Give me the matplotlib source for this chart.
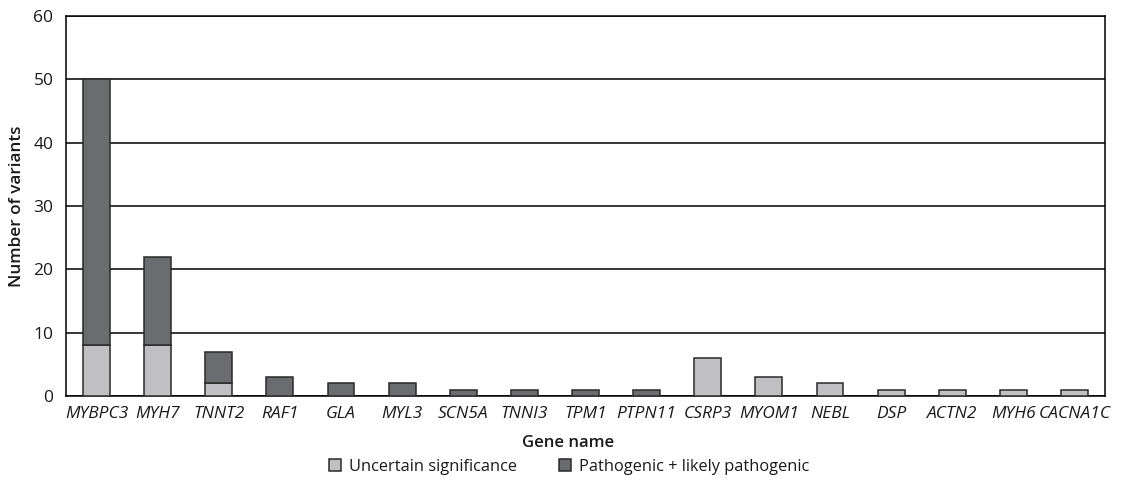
import matplotlib
matplotlib.use("Agg")
import matplotlib.pyplot as plt
import numpy as np

plt.rcParams['font.family'] = ['Open Sans', 'DejaVu Sans']

genes = ["MYBPC3", "MYH7", "TNNT2", "RAF1", "GLA", "MYL3", "SCN5A", "TNNI3", "TPM1",
         "PTPN11", "CSRP3", "MYOM1", "NEBL", "DSP", "ACTN2", "MYH6", "CACNA1C"]
uncertain = [8, 8, 2, 0, 0, 0, 0, 0, 0, 0, 6, 3, 2, 1, 1, 1, 1]
pathogenic = [42, 14, 5, 3, 2, 2, 1, 1, 1, 1, 0, 0, 0, 0, 0, 0, 0]
yticks = [0, 10, 20, 30, 40, 50, 60]

light = "#c0c0c2"
dark = "#6b6c70"
edge = "#2a2a2a"

W, H = 1126, 480
fig = plt.figure(figsize=(W/100, H/100), dpi=100)
ax = fig.add_axes([66/W, 1 - 396/H, (1105-66)/W, (396-16)/H])

x = np.arange(len(genes))
u = np.array(uncertain)
p = np.array(pathogenic)
w = 0.44
mu = u > 0
mp = p > 0
ax.bar(x[mu], u[mu], width=w, color=light, edgecolor=edge, linewidth=1.1, zorder=3,
       label="Uncertain significance")
ax.bar(x[mp], p[mp], bottom=u[mp], width=w, color=dark, edgecolor=edge, linewidth=1.1, zorder=3,
       label="Pathogenic + likely pathogenic")

ax.set_xlim(-0.5, len(genes) - 0.5)
ax.set_ylim(0, 60)
ax.set_yticks(yticks)
ax.yaxis.grid(True, color="black", linewidth=1.1, zorder=0)
ax.set_axisbelow(True)
ax.set_xticks(x)
ax.set_xticklabels(genes, fontstyle="italic", fontsize=12.5, color="#1a1a1a")
ax.tick_params(axis="x", length=0, pad=7)
ax.tick_params(axis="y", length=0, labelsize=12.5, pad=9, labelcolor="#1a1a1a")
for s in ax.spines.values():
    s.set_color("black")
    s.set_linewidth(1.1)

fig.text(568/W, 1 - 447/H, "Gene name", fontsize=12, fontweight="semibold",
         ha="center", va="baseline", color="#1a1a1a")
fig.text(17/W, 1 - 206/H, "Number of variants", fontsize=12.3, fontweight="semibold",
         ha="center", va="center", rotation=90, color="#1a1a1a")

leg = fig.legend(*ax.get_legend_handles_labels(), loc="center",
                 bbox_to_anchor=(569/W, 1 - 467/H), ncol=2, frameon=False,
                 fontsize=11.8, handlelength=0.75, handleheight=0.75, handletextpad=0.45,
                 columnspacing=2.6, borderpad=0)
for t in leg.get_texts():
    t.set_color("#1a1a1a")

fig.savefig("out.png", dpi=100)
